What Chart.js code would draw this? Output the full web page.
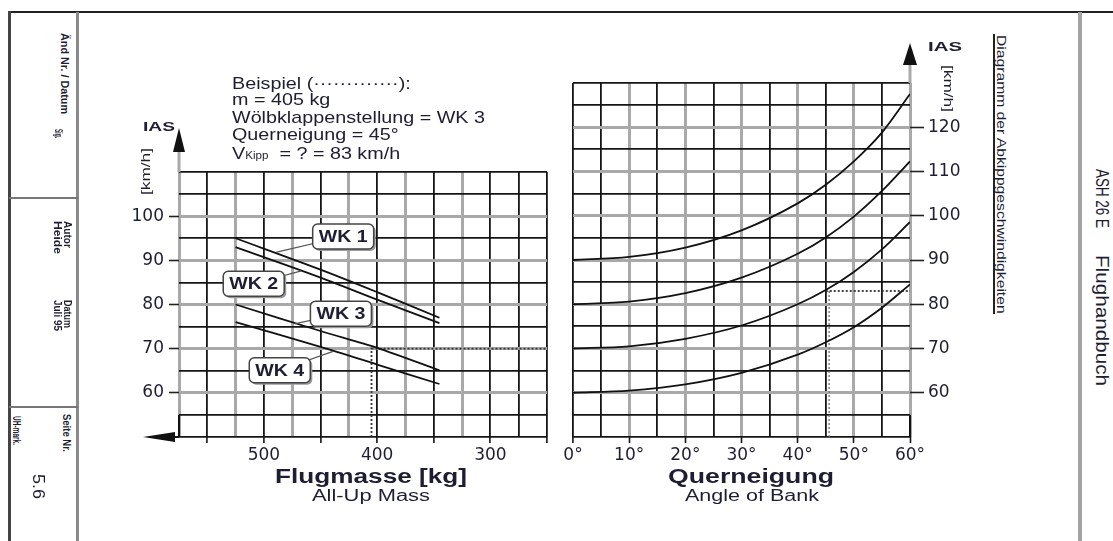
<!DOCTYPE html>
<html>
<head>
<meta charset="utf-8">
<script src="https://cdn.jsdelivr.net/npm/chart.js@4.4.1/dist/chart.umd.min.js"></script>
<style>
  html, body { margin: 0; padding: 0; background: #fff; }
  #page { position: relative; width: 1113px; height: 541px; overflow: hidden; background: #fff; }
  .ln { position: absolute; }
  .t { position: absolute; white-space: pre; line-height: 1; font-family: "Liberation Sans", Arial, sans-serif; color: #1e1e33; transform-origin: 0 0; }
  canvas { position: absolute; }
</style>
</head>
<body>
<div id="page">
  <div class="ln" style="left:8px;top:11px;width:1105px;height:2px;background:#222"></div>
  <div class="ln" style="left:8px;top:11px;width:3px;height:530px;background:#444"></div>
  <div class="ln" style="left:76px;top:12px;width:3px;height:529px;background:#8a8a8a"></div>
  <div class="ln" style="left:9px;top:197px;width:69px;height:2px;background:#777"></div>
  <div class="ln" style="left:9px;top:406px;width:69px;height:2px;background:#777"></div>
  <div class="ln" style="left:1078px;top:12px;width:4px;height:529px;background:#a3a3a3"></div>
  <div class="ln" style="left:993px;top:34px;width:1.5px;height:280px;background:#222"></div>
  <canvas id="massChart" width="480" height="500" style="left:90px;top:20px"></canvas>
  <canvas id="bankChart" width="440" height="500" style="left:540px;top:20px"></canvas>
</div>
<script>
// all-up mass chart (left)
const massKg = [525, 450, 400, 345];
const wk1 = [95, 87.9, 82.8, 77];
const wk2 = [93, 86.1, 81.1, 75.8];
const wk3 = [80, 74, 70.2, 65.1];
const wk4 = [76, 70.4, 66.4, 62];
const flapNames = ["WK 1", "WK 2", "WK 3", "WK 4"];

// angle of bank chart (right)
const bankDeg = [0, 10, 20, 30, 40, 45, 50, 55, 60];
const ias60 = [60, 60.5, 61.9, 64.5, 68.6, 71.4, 74.8, 79.2, 84.5];
const ias70 = [70, 70.5, 72.2, 75.2, 80, 83.2, 87.3, 92.4, 98.6];
const ias80 = [80, 80.6, 82.5, 86, 91.4, 95.1, 99.8, 105.6, 112.3];
const ias90 = [90, 90.7, 92.8, 96.7, 102.8, 107, 112.3, 118.8, 127.5];

// example (Beispiel): 405 kg, WK 3 -> 70 km/h, 45 deg -> 83 km/h
const exMass = 405;
const exIas = 70.2;
const exBank = 45;
const exStall = 83;

const massTicks = [500, 400, 300];
const bankTicks = [0, 10, 20, 30, 40, 50, 60];

const BLACK = "#151515";
const GRAY = "#a9a9a9";

Chart.defaults.font.family = "DejaVu Sans";
Chart.defaults.font.size = 17;
Chart.defaults.color = "#1e1e33";

const pts = (xs, ys) => xs.map((x, i) => ({ x: x, y: ys[i] }));

function curve(data) {
  return { data: data, borderColor: "#111", borderWidth: 1.8, pointRadius: 0, fill: false, tension: 0.3 };
}
function dotted(data) {
  return { data: data, borderColor: "#333", borderWidth: 1.8, borderDash: [2, 2], pointRadius: 0, fill: false, tension: 0 };
}

function triangle(ctx, a, b, c) {
  ctx.beginPath();
  ctx.moveTo(a[0], a[1]);
  ctx.lineTo(b[0], b[1]);
  ctx.lineTo(c[0], c[1]);
  ctx.closePath();
  ctx.fill();
}

// label boxes on the mass chart: box centre and the point the leader goes to
const flapTags = [
  { m: 430, v: 95.4, tm: 489.5, tv: 91.8 },
  { m: 509, v: 84.7, tm: 467, tv: 87.6 },
  { m: 432, v: 77.9, tm: 473, tv: 75.6 },
  { m: 486, v: 65.1, tm: 439, tv: 69.4 }
];

const massExtras = {
  id: "massExtras",
  afterDatasetsDraw(chart) {
    const { ctx, chartArea, scales } = chart;
    const x = scales.x, y = scales.y;
    const x0 = x.getPixelForValue(575);
    ctx.save();
    // y axis arrow
    ctx.fillStyle = GRAY;
    ctx.fillRect(x0 - 1.5, chartArea.top - 22, 3, 22);
    ctx.fillStyle = "#111";
    triangle(ctx, [x0, chartArea.top - 44], [x0 - 6, chartArea.top - 20], [x0 + 6, chartArea.top - 20]);
    // x axis arrow (pointing left)
    const yb = y.getPixelForValue(50);
    ctx.fillRect(x0 - 8, yb - 1, 8, 2);
    triangle(ctx, [x0 - 36, yb], [x0 - 4, yb - 5], [x0 - 4, yb + 5]);
    ctx.fillRect(x0 - 1, y.getPixelForValue(55), 2, yb - y.getPixelForValue(55));

    // WK labels
    flapTags.forEach((t, i) => {
      const cx = x.getPixelForValue(t.m), cy = y.getPixelForValue(t.v);
      const tx = x.getPixelForValue(t.tm), ty = y.getPixelForValue(t.tv);
      ctx.strokeStyle = "#555";
      ctx.lineWidth = 1.2;
      ctx.beginPath();
      ctx.moveTo(cx, cy);
      ctx.lineTo(tx, ty);
      ctx.stroke();
      const w = 61, h = 25;
      ctx.fillStyle = "#9a9a9a";
      ctx.beginPath();
      ctx.roundRect(cx - w / 2 + 2, cy - h / 2 + 2, w, h, 5);
      ctx.fill();
      ctx.fillStyle = "#fff";
      ctx.strokeStyle = "#444";
      ctx.lineWidth = 1.5;
      ctx.beginPath();
      ctx.roundRect(cx - w / 2, cy - h / 2, w, h, 5);
      ctx.fill();
      ctx.stroke();
      ctx.save();
      ctx.translate(cx, cy + 1);
      ctx.scale(1.15, 1);
      ctx.fillStyle = "#1e1e33";
      ctx.font = "bold 17px 'Liberation Sans', Arial, sans-serif";
      ctx.textAlign = "center";
      ctx.textBaseline = "middle";
      ctx.fillText(flapNames[i], 0, 0);
      ctx.restore();
    });
    ctx.restore();
  }
};

const bankExtras = {
  id: "bankExtras",
  afterDatasetsDraw(chart) {
    const { ctx, chartArea, scales } = chart;
    const x = scales.x, y = scales.y;
    const x1 = x.getPixelForValue(60);
    ctx.save();
    ctx.fillStyle = GRAY;
    ctx.fillRect(x1 - 1.5, chartArea.top - 20, 3, 20);
    ctx.fillStyle = "#111";
    triangle(ctx, [x1, chartArea.top - 40], [x1 - 7, chartArea.top - 18], [x1 + 7, chartArea.top - 18]);
    const yb = y.getPixelForValue(50);
    ctx.fillRect(x1 - 1, y.getPixelForValue(55), 2, yb - y.getPixelForValue(55));
    ctx.restore();
  }
};

new Chart(document.getElementById("massChart"), {
  type: "line",
  data: {
    datasets: [
      curve(pts(massKg, wk1)),
      curve(pts(massKg, wk2)),
      curve(pts(massKg, wk3)),
      curve(pts(massKg, wk4)),
      dotted([{ x: exMass, y: 50 }, { x: exMass, y: exIas }]),
      dotted([{ x: exMass, y: 70 }, { x: 250, y: 70 }])
    ]
  },
  options: {
    responsive: false,
    animation: false,
    devicePixelRatio: 1,
    layout: { padding: { top: 152, right: 23, left: 0, bottom: 0 } },
    plugins: { legend: { display: false }, tooltip: { enabled: false } },
    scales: {
      x: {
        type: "linear",
        reverse: true,
        min: 250,
        max: 575,
        afterFit(s) { s.height = 83; },
        border: { display: false },
        grid: {
          color: (c) => (c.tick.value % 50 === 0 || c.tick.value === 275 ? BLACK : GRAY),
          lineWidth: (c) => (c.tick.value % 50 === 0 || c.tick.value === 275 ? 1.8 : 3),
          tickColor: (c) => (c.tick.value % 50 === 0 ? BLACK : "transparent"),
          tickWidth: 1.6,
          tickLength: 6
        },
        ticks: {
          stepSize: 25,
          maxTicksLimit: 100,
          autoSkip: false,
          maxRotation: 0,
          padding: 2,
          callback: (v) => (massTicks.includes(v) ? String(v) : "")
        }
      },
      y: {
        type: "linear",
        min: 50,
        max: 110,
        afterFit(s) { s.width = 89; },
        border: { display: false },
        grid: {
          color: (c) => (c.tick.value % 10 === 0 && c.tick.value > 50 && c.tick.value < 110 ? GRAY : BLACK),
          lineWidth: (c) => (c.tick.value % 10 === 0 && c.tick.value > 50 && c.tick.value < 110 ? 3 : 1.8),
          tickColor: (c) => (c.tick.value % 10 === 0 && c.tick.value >= 60 && c.tick.value <= 100 ? "#222" : "transparent"),
          tickWidth: 1.6,
          tickLength: 10
        },
        ticks: {
          stepSize: 5,
          maxTicksLimit: 100,
          autoSkip: false,
          padding: 5,
          callback: (v) => (v % 10 === 0 && v >= 60 && v <= 100 ? String(v) : "")
        }
      }
    }
  },
  plugins: [massExtras]
});

new Chart(document.getElementById("bankChart"), {
  type: "line",
  data: {
    datasets: [
      Object.assign(curve(pts(bankDeg, ias60)), { tension: 0, cubicInterpolationMode: "monotone" }),
      Object.assign(curve(pts(bankDeg, ias70)), { tension: 0, cubicInterpolationMode: "monotone" }),
      Object.assign(curve(pts(bankDeg, ias80)), { tension: 0, cubicInterpolationMode: "monotone" }),
      Object.assign(curve(pts(bankDeg, ias90)), { tension: 0, cubicInterpolationMode: "monotone" }),
      Object.assign(dotted([{ x: exBank + 0.6, y: 50 }, { x: exBank + 0.6, y: exStall }]), { borderColor: "#777", borderWidth: 1.4 }),
      dotted([{ x: exBank, y: exStall }, { x: 60, y: exStall }])
    ]
  },
  options: {
    responsive: false,
    animation: false,
    devicePixelRatio: 1,
    layout: { padding: { top: 63, left: 33, right: 0, bottom: 0 } },
    plugins: { legend: { display: false }, tooltip: { enabled: false } },
    scales: {
      x: {
        type: "linear",
        min: 0,
        max: 60,
        afterFit(s) { s.height = 83; },
        border: { display: false },
        grid: {
          color: (c) => (c.tick.value % 10 === 5 || c.tick.value === 0 ? BLACK : GRAY),
          lineWidth: (c) => (c.tick.value % 10 === 5 || c.tick.value === 0 ? 1.8 : 3),
          tickColor: (c) => (c.tick.value % 10 === 0 ? BLACK : "transparent"),
          tickWidth: 1.6,
          tickLength: 6
        },
        ticks: {
          stepSize: 5,
          maxTicksLimit: 100,
          autoSkip: false,
          maxRotation: 0,
          padding: 2,
          callback: (v) => (bankTicks.includes(v) ? v + "°" : "")
        }
      },
      y: {
        type: "linear",
        position: "right",
        min: 50,
        max: 130,
        afterFit(s) { s.width = 70; },
        border: { display: false },
        grid: {
          color: (c) => (c.tick.value % 10 === 0 && c.tick.value > 50 && c.tick.value < 130 ? GRAY : BLACK),
          lineWidth: (c) => (c.tick.value % 10 === 0 && c.tick.value > 50 && c.tick.value < 130 ? 3 : 1.8),
          tickColor: (c) => (c.tick.value % 10 === 0 && c.tick.value >= 60 && c.tick.value <= 120 ? "#222" : "transparent"),
          tickWidth: 1.6,
          tickLength: 14
        },
        ticks: {
          stepSize: 5,
          maxTicksLimit: 100,
          autoSkip: false,
          padding: 4,
          callback: (v) => (v % 10 === 0 && v >= 60 && v <= 120 ? String(v) : "")
        }
      }
    }
  },
  plugins: [bankExtras]
});

// ---- page texts ----
const page = document.getElementById("page");
const meas = document.createElement("canvas").getContext("2d");
function fontOf(o) { return (o.bold ? "bold " : "") + o.size + "px 'Liberation Sans'"; }
function widthOf(txt, o) { meas.font = fontOf(o); return meas.measureText(txt).width; }

// horizontal text, o: {x, base, size, bold, len, sx, center, html}
function htext(txt, o) {
  const d = document.createElement("div");
  d.className = "t";
  d.style.fontSize = o.size + "px";
  if (o.bold) d.style.fontWeight = "bold";
  if (o.html) d.innerHTML = o.html; else d.textContent = txt;
  const w = widthOf(txt, o);
  const s = o.len ? o.len / w : (o.sx || 1);
  const left = o.center ? o.x - (w * s) / 2 : o.x;
  d.style.left = left + "px";
  d.style.top = (o.base - 0.8465 * o.size) + "px";
  d.style.transform = "scaleX(" + s + ")";
  page.appendChild(d);
  return s;
}
// vertical text, o: {cx, y0, y1, size, bold, dir: 1 clockwise / -1 counter}
function vtext(txt, o) {
  const d = document.createElement("div");
  d.className = "t";
  d.style.fontSize = o.size + "px";
  if (o.bold) d.style.fontWeight = "bold";
  d.textContent = txt;
  const s = (o.y1 - o.y0) / widthOf(txt, o);
  if (o.dir === -1) {
    d.style.left = (o.cx - o.size / 2) + "px";
    d.style.top = o.y1 + "px";
    d.style.transform = "rotate(-90deg) scaleX(" + s + ")";
  } else {
    d.style.left = (o.cx + o.size / 2) + "px";
    d.style.top = o.y0 + "px";
    d.style.transform = "rotate(90deg) scaleX(" + s + ")";
  }
  page.appendChild(d);
}

// example block
const sx = htext("Wölbklappenstellung = WK 3", { x: 232, base: 123, size: 17, len: 253 });
htext("Beispiel (·············):", { x: 232, base: 89, size: 17, sx: sx });
htext("m = 405 kg", { x: 232, base: 105.5, size: 17, sx: sx });
htext("Querneigung = 45°", { x: 232, base: 140.5, size: 17, sx: sx });
htext("V     = ? = 83 km/h", { x: 232, base: 159, size: 17, sx: sx,
  html: "V<span style=\"font-size:10px\">Kipp</span>  = ? = 83 km/h" });

// axis titles
htext("Flugmasse [kg]", { x: 371, base: 484, size: 19.5, bold: true, len: 192, center: true });
htext("All-Up Mass", { x: 371, base: 501.5, size: 16, len: 118, center: true });
htext("Querneigung", { x: 751, base: 484, size: 19.5, bold: true, len: 166, center: true });
htext("Angle of Bank", { x: 752, base: 501.5, size: 16, len: 134, center: true });
htext("IAS", { x: 143, base: 131, size: 13, bold: true, len: 32 });
htext("IAS", { x: 928, base: 51.5, size: 13, bold: true, len: 34 });
vtext("[km/h]", { cx: 146, y0: 148, y1: 195, size: 12, dir: -1 });
vtext("[km/h]", { cx: 948, y0: 65, y1: 112, size: 12, dir: 1 });

// right margin
vtext("Diagramm der Abkippgeschwindigkeiten", { cx: 1001, y0: 34.5, y1: 314, size: 12 });
vtext("ASH 26 E", { cx: 1102, y0: 169, y1: 228, size: 18 });
vtext("Flughandbuch", { cx: 1102, y0: 255, y1: 386, size: 18 });

// left margin
vtext("Änd Nr. / Datum", { cx: 64, y0: 33, y1: 114, size: 11, bold: true });
vtext("Sig.", { cx: 58, y0: 129, y1: 138, size: 11, bold: true });
vtext("Autor", { cx: 67, y0: 221, y1: 248, size: 11, bold: true });
vtext("Heide", { cx: 57, y0: 221, y1: 254, size: 11, bold: true });
vtext("Datum", { cx: 67, y0: 300, y1: 328, size: 11, bold: true });
vtext("Juli 95", { cx: 57, y0: 300, y1: 331, size: 11, bold: true });
vtext("Seite Nr.", { cx: 66, y0: 414, y1: 452, size: 11, bold: true });
vtext("UH-mark.", { cx: 16, y0: 416, y1: 445, size: 11, bold: true });
vtext("5.6", { cx: 38, y0: 474, y1: 499, size: 16 });
</script>
</body>
</html>
